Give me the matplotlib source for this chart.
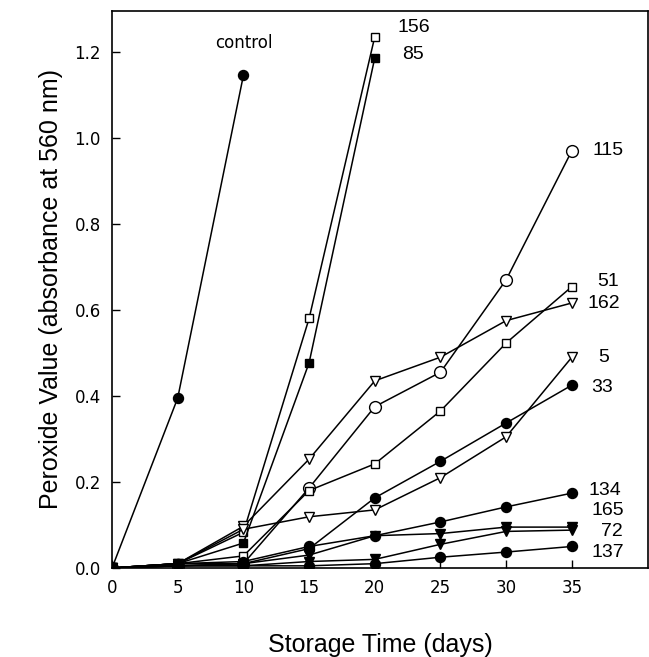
"""
Peroxide value vs storage time, recreated with matplotlib
"""

import matplotlib
matplotlib.use('Agg')
import matplotlib.pyplot as plt

# Storage days
days = [0, 5, 10, 15, 20, 25, 30, 35]

# Peroxide values (absorbance at 560 nm) per sample
control = [0.0, 0.395, 1.145]
s156 = [0.0, 0.01, 0.083, 0.58, 1.235]
s85 = [0.0, 0.01, 0.058, 0.477, 1.186]
s115 = [0.0, 0.005, 0.01, 0.186, 0.375, 0.455, 0.67, 0.97]
s51 = [0.0, 0.01, 0.028, 0.18, 0.242, 0.365, 0.523, 0.654]
s162 = [0.0, 0.01, 0.097, 0.253, 0.435, 0.49, 0.575, 0.616]
s5 = [0.0, 0.01, 0.09, 0.119, 0.135, 0.21, 0.305, 0.49]
s33 = [0.0, 0.01, 0.01, 0.045, 0.163, 0.248, 0.337, 0.425]
s134 = [0.0, 0.01, 0.015, 0.05, 0.075, 0.107, 0.142, 0.174]
s165 = [0.0, 0.005, 0.01, 0.03, 0.075, 0.08, 0.095, 0.095]
s72 = [0.0, 0.005, 0.005, 0.015, 0.02, 0.055, 0.085, 0.088]
s137 = [0.0, 0.005, 0.005, 0.005, 0.01, 0.025, 0.037, 0.05]

# (values, marker, filled)
series = [
    (control, 'o', True),
    (s156, 's', False),
    (s85, 's', True),
    (s115, 'o', False),
    (s51, 's', False),
    (s162, 'v', False),
    (s5, 'v', False),
    (s33, 'o', True),
    (s134, 'o', True),
    (s165, 'v', True),
    (s72, 'v', True),
    (s137, 'o', True),
]

# End labels: (text, x, y)
labels = [
    ('control', 10.0, 1.22),
    ('156', 21.7, 1.256),
    ('85', 22.1, 1.193),
    ('115', 36.6, 0.97),
    ('51', 36.9, 0.665),
    ('162', 36.2, 0.614),
    ('5', 37.0, 0.49),
    ('33', 36.5, 0.42),
    ('134', 36.3, 0.181),
    ('165', 36.5, 0.133),
    ('72', 37.2, 0.084),
    ('137', 36.5, 0.035),
]

fig = plt.figure(figsize=(6.49, 6.57), dpi=100)
ax = fig.add_axes([0.1726, 0.1355, 0.826, 0.848])

for vals, mk, filled in series:
    x = days[:len(vals)]
    if mk == 's':
        ms = 5.8
    elif mk == 'o' and not filled:
        ms = 8.5
    else:
        ms = 7.2
    ax.plot(x, vals, '-', color='black', linewidth=1.1,
            marker=mk, markersize=ms,
            markerfacecolor='black' if filled else 'white',
            markeredgecolor='black', markeredgewidth=1.0, zorder=3)

for text, x, y in labels:
    if text == 'control':
        ax.text(x, y, text, ha='center', va='center', fontsize=12)
    else:
        ax.text(x, y, text, ha='left', va='center', fontsize=14,
                family='Liberation Sans')

ax.set_xlim(0, 40.8)
ax.set_ylim(0, 1.295)
ax.set_xticks(days)
ax.set_yticks([0.0, 0.2, 0.4, 0.6, 0.8, 1.0, 1.2])
ax.set_yticklabels(['0.0', '0.2', '0.4', '0.6', '0.8', '1.0', '1.2'])
ax.tick_params(direction='in', length=6, width=1, labelsize=12, pad=8)

for sp in ax.spines.values():
    sp.set_linewidth(1.2)

ax.set_xlabel('Storage Time (days)', fontsize=18, labelpad=26,
              family='Liberation Sans')
ax.set_ylabel('Peroxide Value (absorbance at 560 nm)', fontsize=18,
              labelpad=8, family='Liberation Sans')

plt.savefig('out.png', dpi=100)
plt.close()
